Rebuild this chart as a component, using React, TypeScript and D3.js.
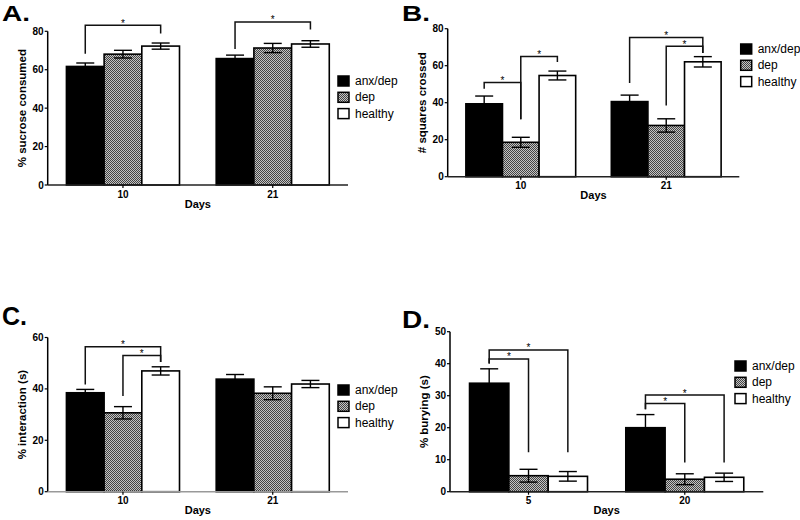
import React from "react";
import * as d3 from "d3";

const seriesNames = ["anx/dep", "dep", "healthy"];

const sucroseDays = ["10", "21"];
const sucroseMean = [[61.7, 68.1, 72.3], [65.8, 71.3, 73.4]];
const sucroseErr = [[1.8, 2.0, 1.6], [1.8, 2.4, 1.7]];
const sucroseTicks = [0, 20, 40, 60, 80];
const sucroseBrackets = [
  { group: 0, from: 0, to: 2, top: 83.1, fromEnd: 68.3, toEnd: 78.8 },
  { group: 1, from: 0, to: 2, top: 84.9, fromEnd: 70.8, toEnd: 80.9 },
];

const squaresDays = ["10", "21"];
const squaresMean = [[39.4, 18.6, 54.7], [40.6, 27.7, 62.1]];
const squaresErr = [[4.2, 2.7, 2.4], [3.5, 3.6, 2.8]];
const squaresTicks = [0, 20, 40, 60, 80];
const squaresBrackets = [
  { group: 0, from: 0, to: 1, top: 50.9, fromEnd: 47.5, toEnd: 31.1 },
  { group: 0, from: 1, to: 2, top: 65.0, fromEnd: 31.1, toEnd: 62.0 },
  { group: 1, from: 0, to: 2, top: 75.3, fromEnd: 50.6, toEnd: 66.9 },
  { group: 1, from: 1, to: 2, top: 70.5, fromEnd: 38.5, toEnd: 66.9 },
];

const interactionDays = ["10", "21"];
const interactionMean = [[38.5, 30.7, 47.0], [43.8, 38.3, 41.9]];
const interactionErr = [[1.3, 2.4, 1.6], [1.8, 2.5, 1.4]];
const interactionTicks = [0, 20, 40, 60];
const interactionBrackets = [
  { group: 0, from: 0, to: 2, top: 56.4, fromEnd: 41.7, toEnd: 50.5 },
  { group: 0, from: 1, to: 2, top: 53.0, fromEnd: 37.2, toEnd: 50.5 },
];

const buryingDays = ["5", "20"];
const buryingMean = [[33.9, 5.0, 4.8], [20.0, 3.9, 4.5]];
const buryingErr = [[4.5, 2.0, 1.5], [4.1, 1.7, 1.3]];
const buryingTicks = [0, 10, 20, 30, 40, 50];
const buryingBrackets = [
  { group: 0, from: 0, to: 2, top: 44.3, fromEnd: 40.1, toEnd: 12.3 },
  { group: 0, from: 0, to: 1, top: 41.5, fromEnd: 40.1, toEnd: 12.3 },
  { group: 1, from: 0, to: 2, top: 30.2, fromEnd: 25.8, toEnd: 9.1 },
  { group: 1, from: 0, to: 1, top: 27.6, fromEnd: 25.8, toEnd: 9.1 },
];

const FONT = "'Liberation Sans', Arial, sans-serif";
const fills = ["#000000", "url(#checker)", "#ffffff"];

type Bracket = { group: number; from: number; to: number; top: number; fromEnd: number; toEnd: number };

type PanelProps = {
  label: string;
  labelX: number;
  labelY: number;
  labelSize: number;
  labelLen: number;
  left: number;
  right: number;
  top: number;
  bottom: number;
  yMax: number;
  ticks: number[];
  days: string[];
  mean: number[][];
  err: number[][];
  brackets: Bracket[];
  yTitle: string;
  legendX: number;
  legendY: number;
  xAxisColor: string;
};

function Panel(p: PanelProps) {
  const y = d3.scaleLinear().domain([0, p.yMax]).range([p.bottom, p.top]);
  const xg = d3.scaleBand<string>().domain(p.days).range([p.left, p.right]).paddingInner(0.245).paddingOuter(0.125);
  const xs = d3.scaleBand<number>().domain([0, 1, 2]).range([0, xg.bandwidth()]);
  const bw = xs.bandwidth();
  const cx = (g: number, s: number) => (xg(p.days[g]) as number) + (xs(s) as number) + bw / 2;
  const cap = 9;
  const midY = (p.top + p.bottom) / 2;
  return (
    <g>
      <text x={p.labelX} y={p.labelY} fontSize={p.labelSize} fontWeight="bold" fontFamily={FONT}
        textLength={p.labelLen} lengthAdjust="spacingAndGlyphs">{p.label}</text>
      {/* bars */}
      {p.days.map((d, g) =>
        p.mean[g].map((v, s) => (
          <rect key={`b${g}${s}`} x={(xg(d) as number) + (xs(s) as number)} y={y(v)} width={bw} height={p.bottom - y(v)}
            fill={fills[s]} stroke="#000" strokeWidth={1.6} />
        ))
      )}
      {/* error bars */}
      {p.days.map((d, g) =>
        p.mean[g].map((v, s) => {
          const x = cx(g, s);
          const hi = y(v + p.err[g][s]);
          const lo = y(v - p.err[g][s]);
          return (
            <g key={`e${g}${s}`} stroke="#000" strokeWidth={1.4}>
              <line x1={x} x2={x} y1={hi} y2={lo} />
              <line x1={x - cap} x2={x + cap} y1={hi} y2={hi} />
              <line x1={x - cap} x2={x + cap} y1={lo} y2={lo} />
            </g>
          );
        })
      )}
      {/* brackets */}
      {p.brackets.map((b, i) => {
        const x1 = cx(b.group, b.from);
        const x2 = cx(b.group, b.to);
        const yt = y(b.top);
        return (
          <g key={`k${i}`}>
            <path d={`M${x1},${y(b.fromEnd)}V${yt}H${x2}V${y(b.toEnd)}`} fill="none" stroke="#111" strokeWidth={1.5} />
            <text x={(x1 + x2) / 2} y={yt + 1.5} fontSize={10} textAnchor="middle" fontFamily={FONT} fill="#000">*</text>
          </g>
        );
      })}
      {/* y axis */}
      <line x1={p.left} x2={p.left} y1={p.top} y2={p.bottom} stroke="#000" strokeWidth={1.5} />
      {p.ticks.map((t) => (
        <g key={`t${t}`}>
          <line x1={p.left - 3} x2={p.left} y1={y(t)} y2={y(t)} stroke="#000" strokeWidth={1.2} />
          <text x={p.left - 4} y={y(t) + 3.5} fontSize={10} fontWeight="bold" textAnchor="end" fontFamily={FONT}>{t}</text>
        </g>
      ))}
      {/* x axis */}
      <line x1={p.left} x2={p.right} y1={p.bottom} y2={p.bottom} stroke={p.xAxisColor} strokeWidth={1.5} />
      {p.days.map((d) => {
        const x = (xg(d) as number) + xg.bandwidth() / 2;
        return (
          <g key={`x${d}`}>
            <line x1={x} x2={x} y1={p.bottom} y2={p.bottom + 3} stroke="#000" strokeWidth={1.2} />
            <text x={x} y={p.bottom + 12.5} fontSize={10} fontWeight="bold" textAnchor="middle" fontFamily={FONT}>{d}</text>
          </g>
        );
      })}
      <text x={(p.left + p.right) / 2} y={p.bottom + 22.5} fontSize={11} fontWeight="bold" textAnchor="middle" fontFamily={FONT}>Days</text>
      <text transform={`translate(${p.left - 22},${midY}) rotate(-90)`} fontSize={11.5} fontWeight="bold" textAnchor="middle" fontFamily={FONT}>{p.yTitle}</text>
      {/* legend */}
      {seriesNames.map((n, s) => {
        const cy = p.legendY + s * 16.3;
        return (
          <g key={`l${s}`}>
            <rect x={p.legendX} y={cy - 5} width={11} height={10} fill={fills[s]} stroke="#000" strokeWidth={1.5} />
            <text x={p.legendX + 17} y={cy + 4} fontSize={12} fontFamily={FONT}>{n}</text>
          </g>
        );
      })}
    </g>
  );
}

export default function App() {
  return (
    <svg width={800} height={520} style={{ position: "absolute", left: 0, top: 0, background: "#fff" }}>
      <defs>
        <pattern id="checker" width={2} height={2} patternUnits="userSpaceOnUse">
          <rect width={2} height={2} fill="#c4c4c4" />
          <rect width={1} height={1} fill="#444" />
          <rect x={1} y={1} width={1} height={1} fill="#444" />
        </pattern>
      </defs>
      <rect width={800} height={520} fill="#fff" />
      <Panel label="A." labelX={2} labelY={21} labelSize={22} labelLen={28} left={47.7} right={348} top={31.3} bottom={185} yMax={80}
        ticks={sucroseTicks} days={sucroseDays} mean={sucroseMean} err={sucroseErr} brackets={sucroseBrackets}
        yTitle="% sucrose consumed" legendX={338} legendY={81} xAxisColor="#222" />
      <Panel label="B." labelX={402} labelY={21} labelSize={22} labelLen={28} left={447.7} right={739.3} top={28.7} bottom={176.7} yMax={80}
        ticks={squaresTicks} days={squaresDays} mean={squaresMean} err={squaresErr} brackets={squaresBrackets}
        yTitle="# squares crossed" legendX={740.7} legendY={49} xAxisColor="#222" />
      <Panel label="C." labelX={2} labelY={324.5} labelSize={25} labelLen={25} left={47.7} right={348} top={337.5} bottom={491.7} yMax={60}
        ticks={interactionTicks} days={interactionDays} mean={interactionMean} err={interactionErr} brackets={interactionBrackets}
        yTitle="% interaction (s)" legendX={338} legendY={390} xAxisColor="#999" />
      <Panel label="D." labelX={402} labelY={328.3} labelSize={23} labelLen={28} left={450} right={763.3} top={331.7} bottom={491.7} yMax={50}
        ticks={buryingTicks} days={buryingDays} mean={buryingMean} err={buryingErr} brackets={buryingBrackets}
        yTitle="% burying (s)" legendX={735} legendY={366} xAxisColor="#222" />
    </svg>
  );
}
